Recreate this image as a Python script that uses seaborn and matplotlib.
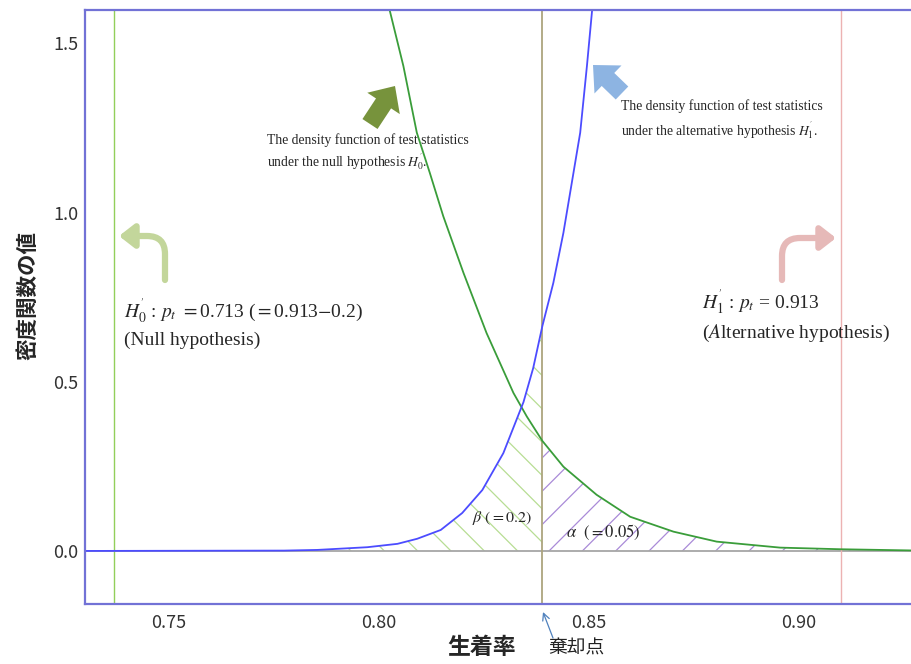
import matplotlib
matplotlib.use("Agg")
import matplotlib.pyplot as plt
import numpy as np
import seaborn as sns
from matplotlib.patches import FancyArrowPatch

# density of the test statistic under H0'
null_x = [0.8022, 0.8059, 0.8091, 0.8122, 0.8154, 0.8202, 0.8257, 0.8321, 0.8353,
          0.839, 0.844, 0.8519, 0.8599, 0.8702, 0.8805, 0.8956, 0.910, 0.929]
null_y = [1.62, 1.433, 1.236, 1.117, 0.989, 0.822, 0.644, 0.467, 0.397,
          0.325, 0.249, 0.166, 0.101, 0.057, 0.0275, 0.0098, 0.005, 0.001]

# density of the test statistic under H1'
alt_x = [0.730, 0.7775, 0.7854, 0.7973, 0.8045, 0.8092, 0.8148, 0.8199, 0.8247, 0.8297,
         0.8345, 0.8368, 0.839, 0.8416, 0.844, 0.846, 0.848, 0.8496, 0.8510]
alt_y = [0.0, 0.001, 0.003, 0.011, 0.021, 0.036, 0.062, 0.112, 0.180, 0.289,
         0.440, 0.540, 0.665, 0.792, 0.940, 1.088, 1.236, 1.433, 1.62]

null_line = 0.737
critical = 0.839
alt_line = 0.910

x_ticks = [0.75, 0.80, 0.85, 0.90]
x_tick_labels = ["0.75", "0.80", "0.85", "0.90"]
y_ticks = [0.0, 0.5, 1.0, 1.5]
y_tick_labels = ["0.0", "0.5", "1.0", "1.5"]

W, H = 912, 664
SPINE = "#7272d6"
SERIF = ["Liberation Serif", "DejaVu Serif"]


def fig_px(x, y):
    # pixel position (from top-left) -> figure fraction
    return x / W, 1 - y / H


def add_arrow(fig, tail, tip, **kw):
    patch = FancyArrowPatch(fig_px(*tail), fig_px(*tip), transform=fig.transFigure,
                            shrinkA=0, shrinkB=0, **kw)
    fig.patches.append(patch)


sns.set_style("white")
plt.rcParams["font.family"] = ["Noto Sans CJK JP", "DejaVu Sans"]
plt.rcParams["mathtext.fontset"] = "stix"
plt.rcParams["hatch.linewidth"] = 0.9

fig = plt.figure(figsize=(W / 100, H / 100), dpi=100)
ax = fig.add_axes([85 / W, 1 - 604 / H, (920 - 85) / W, (604 - 10) / H])

nx, ny = np.array(null_x), np.array(null_y)
hx, hy = np.array(alt_x), np.array(alt_y)

# alpha and beta regions
right = nx >= critical
ax.fill_between(nx[right], 0, ny[right], facecolor="none", edgecolor="#a98ad8", hatch="/", lw=0)
left = hx <= critical
ax.fill_between(hx[left], 0, hy[left], facecolor="none", edgecolor="#b7dd93", hatch="\\", lw=0)

ax.axhline(0, color="#a6a6a6", lw=1.3)
ax.axvline(null_line, color="#92cf5a", lw=1.0)
ax.axvline(critical, color="#aca57e", lw=1.3)
ax.axvline(alt_line, color="#ecb2b2", lw=1.0)

sns.lineplot(x=null_x, y=null_y, color="#3a9d3a", lw=1.3, ax=ax)
sns.lineplot(x=alt_x, y=alt_y, color="#4c4cff", lw=1.3, ax=ax)

ax.set_xlim(0.7301, 0.9289)
ax.set_ylim(-0.1568, 1.5985)
ax.set_xticks(x_ticks, x_tick_labels)
ax.set_yticks(y_ticks, y_tick_labels)
ax.tick_params(direction="in", length=7, width=1.3, color=SPINE, labelsize=13,
               labelcolor="#333333")
ax.tick_params(axis="x", pad=7)
ax.tick_params(axis="y", pad=5)
for side in ["left", "bottom", "top"]:
    ax.spines[side].set_color(SPINE)
    ax.spines[side].set_linewidth(1.6)
ax.spines["right"].set_visible(False)
ax.set_xlabel("")
ax.set_ylabel("")

# axis titles
fig.text(*fig_px(482, 648), "生着率", fontsize=16.5, fontweight="bold", ha="center", va="center")
fig.text(*fig_px(576, 648), "棄却点", fontsize=13.5, ha="center", va="center", color="#222222")
fig.text(*fig_px(28, 295), "密度関数の値", rotation=90, fontsize=15.5, fontweight="bold",
         ha="center", va="center")
add_arrow(fig, (553, 638), (543, 612), arrowstyle="->,head_length=0.5,head_width=0.25",
          mutation_scale=10, lw=0.9, color="#4f81bd")

# annotations
txt = dict(family=SERIF, va="center", color="#262626")
fig.text(*fig_px(267, 140), "The density function of test statistics", fontsize=9.8, **txt)
fig.text(*fig_px(267, 162), r"under the null hypothesis $H_0^{'}$.", fontsize=9.8, **txt)
fig.text(*fig_px(621, 106), "The density function of test statistics", fontsize=9.8, **txt)
fig.text(*fig_px(621, 130), r"under the alternative hypothesis $H_1^{'}$.", fontsize=9.8, **txt)

fig.text(*fig_px(124, 311), r"$H_0^{'}$ : $p_t$ $=$0.713 ($=$0.913$-$0.2)", fontsize=14, **txt)
fig.text(*fig_px(124, 340), "(Null hypothesis)", fontsize=14, **txt)
fig.text(*fig_px(702, 302), r"$H_1^{'}$ : $p_t$ = 0.913", fontsize=14, **txt)
fig.text(*fig_px(702, 333), r"($A$lternative hypothesis)", fontsize=14, **txt)

fig.text(*fig_px(472, 518), r"$\beta\ (=0.2)$", fontsize=11.5, **txt)
fig.text(*fig_px(566, 532), r"$\alpha\ \ (=0.05)$", fontsize=12, **txt)

big = "simple,head_length=1.5,head_width=2.8,tail_width=1.3"
add_arrow(fig, (370, 124), (395, 86), arrowstyle=big, mutation_scale=10, lw=0, color="#77933c")
add_arrow(fig, (622, 93), (593, 65), arrowstyle=big, mutation_scale=10, lw=0, color="#8db4e2")

bent = "-|>,head_length=0.45,head_width=0.35"
add_arrow(fig, (165, 280), (119, 236), arrowstyle=bent, mutation_scale=20, lw=4.5,
          color="#c3d69b", connectionstyle="angle,angleA=90,angleB=0,rad=18")
add_arrow(fig, (782, 280), (836, 238), arrowstyle=bent, mutation_scale=20, lw=4.5,
          color="#e6b9b8", connectionstyle="angle,angleA=90,angleB=0,rad=18")

fig.savefig("out.png", dpi=100)
